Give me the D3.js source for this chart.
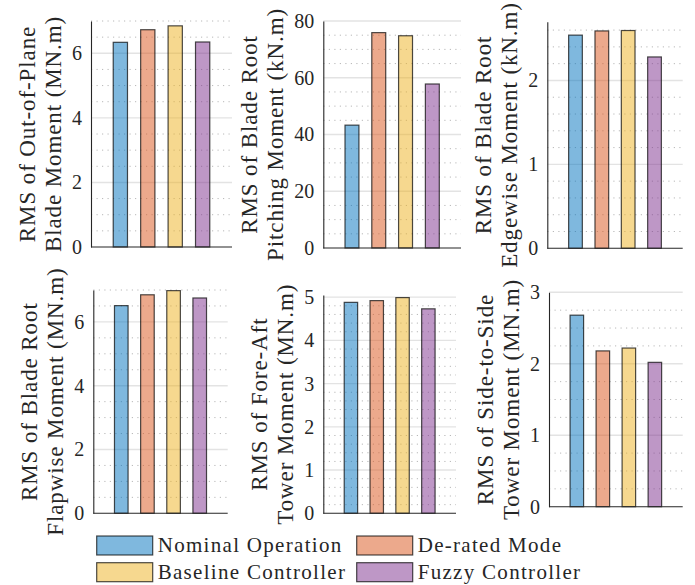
<!DOCTYPE html>
<html>
<head>
<meta charset="utf-8">
<script src="https://cdn.jsdelivr.net/npm/d3@7"></script>
<style>
  html, body { margin: 0; padding: 0; background: #fff; }
  svg { display: block; }
  text { font-family: "Liberation Serif", "Times New Roman", serif; fill: #262626; }
</style>
</head>
<body>
<svg id="chart" width="695" height="585"></svg>
<script>
// Controller strategies compared in every panel
const categories = ["Nominal Operation", "De-rated Mode", "Baseline Controller", "Fuzzy Controller"];

// RMS load values per strategy
const outOfPlaneBlade = [6.34, 6.73, 6.85, 6.35];     // MN.m
const bladeRootPitching = [43.3, 75.9, 74.8, 57.8];   // kN.m
const bladeRootEdgewise = [2.54, 2.59, 2.595, 2.28];  // kN.m
const bladeRootFlapwise = [6.51, 6.85, 6.98, 6.75];   // MN.m
const towerForeAft = [4.88, 4.92, 4.99, 4.73];        // MN.m
const towerSideToSide = [2.68, 2.18, 2.22, 2.02];     // MN.m

// Y tick labels per panel
const ticksOutOfPlane = [0, 2, 4, 6];
const ticksPitching = [0, 20, 40, 60, 80];
const ticksEdgewise = [0, 1, 2];
const ticksFlapwise = [0, 2, 4, 6];
const ticksForeAft = [0, 1, 2, 3, 4, 5];
const ticksSideToSide = [0, 1, 2, 3];

// Y axis titles (two lines each)
const labelsOutOfPlane = ["RMS of Out-of-Plane", "Blade Moment (MN.m)"];
const labelsPitching = ["RMS of Blade Root", "Pitching Moment (kN.m)"];
const labelsEdgewise = ["RMS of Blade Root", "Edgewise Moment (kN.m)"];
const labelsFlapwise = ["RMS of Blade Root", "Flapwise Moment (MN.m)"];
const labelsForeAft = ["RMS of Fore-Aft", "Tower Moment (MN.m)"];
const labelsSideToSide = ["RMS of Side-to-Side", "Tower Moment (MN.m)"];

// Face colours (semi-transparent MATLAB default palette)
const palette = ["#0072bd", "#d95319", "#edb120", "#7e2f8e"];

// Panel layout: plot box and axis limits
const panels = [
  { values: outOfPlaneBlade, ticks: ticksOutOfPlane, labels: labelsOutOfPlane, yMax: 7, minor: 0.5,
    box: { left: 91, right: 232, top: 21, bottom: 247 } },
  { values: bladeRootPitching, ticks: ticksPitching, labels: labelsPitching, yMax: 80, minor: 5,
    box: { left: 323.3, right: 461, top: 21, bottom: 248 } },
  { values: bladeRootEdgewise, ticks: ticksEdgewise, labels: labelsEdgewise, yMax: 2.7, minor: 0.2,
    box: { left: 547.3, right: 682.7, top: 21.7, bottom: 248.3 } },
  { values: bladeRootFlapwise, ticks: ticksFlapwise, labels: labelsFlapwise, yMax: 7, minor: 0.5,
    box: { left: 93.3, right: 227.7, top: 290, bottom: 513.3 } },
  { values: towerForeAft, ticks: ticksForeAft, labels: labelsForeAft, yMax: 5.05, minor: 0.2,
    box: { left: 323.3, right: 456, top: 295, bottom: 513.3 } },
  { values: towerSideToSide, ticks: ticksSideToSide, labels: labelsSideToSide, yMax: 3, minor: 0.25,
    box: { left: 549, right: 682.7, top: 292.3, bottom: 506.7 } }
];

const svg = d3.select("#chart");
const barWidth = 0.52;          // in category units
const xPositions = [1, 2, 3, 4];

panels.forEach(p => {
  const b = p.box;
  const g = svg.append("g");

  const x = d3.scaleLinear().domain([-0.07, 5.07]).range([b.left, b.right]);
  const y = d3.scaleLinear().domain([0, p.yMax]).range([b.bottom, b.top]);

  // Minor dotted grid
  const minorVals = d3.range(0, p.yMax + 1e-9, p.minor)
    .filter(v => !p.ticks.some(t => Math.abs(t - v) < 1e-9));
  g.append("g").selectAll("line").data(minorVals).join("line")
    .attr("x1", b.left).attr("x2", b.right)
    .attr("y1", d => y(d)).attr("y2", d => y(d))
    .attr("stroke", "#b8b8b8").attr("stroke-width", 1)
    .attr("stroke-dasharray", "1.2,4.3");

  // Major solid grid
  g.append("g").selectAll("line").data(p.ticks.filter(t => t > 0)).join("line")
    .attr("x1", b.left).attr("x2", b.right)
    .attr("y1", d => y(d)).attr("y2", d => y(d))
    .attr("stroke", "#e3e3e3").attr("stroke-width", 1.4);

  // Bars
  g.append("g").selectAll("rect").data(p.values).join("rect")
    .attr("x", (d, i) => x(xPositions[i] - barWidth / 2))
    .attr("width", (d, i) => x(xPositions[i] + barWidth / 2) - x(xPositions[i] - barWidth / 2))
    .attr("y", d => y(d))
    .attr("height", d => y(0) - y(d))
    .attr("fill", (d, i) => palette[i]).attr("fill-opacity", 0.5)
    .attr("stroke", "#000").attr("stroke-opacity", 0.7).attr("stroke-width", 1.2);

  // Y axis with tick labels
  const yAxis = d3.axisLeft(y).tickValues(p.ticks).tickFormat(d3.format("d"))
    .tickSizeInner(0).tickSizeOuter(0).tickPadding(9);
  const ax = g.append("g").attr("transform", `translate(${b.left},0)`).call(yAxis);
  ax.select(".domain").attr("stroke", "#262626").attr("stroke-width", 1.1);
  ax.selectAll(".tick text").attr("font-size", 20)
    .style("font-family", '"Liberation Serif", serif').attr("fill", "#262626");

  // Bottom axis line
  g.append("line")
    .attr("x1", b.left).attr("x2", b.right)
    .attr("y1", b.bottom).attr("y2", b.bottom)
    .attr("stroke", "#262626").attr("stroke-width", 1.1);

  // Y axis title, two rotated lines placed left of the tick labels
  let minX = Infinity;
  ax.selectAll(".tick text").each(function () {
    const bb = this.getBBox();
    minX = Math.min(minX, b.left + bb.x);
  });
  const line2X = minX - 11;
  const line1X = line2X - 26.5;
  const cy = (b.top + b.bottom) / 2;
  [line1X, line2X].forEach((lx, i) => {
    g.append("text")
      .attr("transform", `translate(${lx},${cy}) rotate(-90)`)
      .attr("text-anchor", "middle")
      .attr("font-size", 23)
      .style("letter-spacing", "0.9px")
      .text(p.labels[i]);
  });
});

// Legend, two columns
const legend = svg.append("g");
const legendCols = [96.7, 356.7];
const legendRows = [536, 562.7];
categories.forEach((name, i) => {
  const lx = legendCols[i % 2];
  const ly = legendRows[Math.floor(i / 2)];
  legend.append("rect")
    .attr("x", lx).attr("y", ly).attr("width", 56).attr("height", 19)
    .attr("fill", palette[i]).attr("fill-opacity", 0.5)
    .attr("stroke", "#000").attr("stroke-opacity", 0.7).attr("stroke-width", 1.2);
  legend.append("text")
    .attr("x", lx + 61).attr("y", ly + 16)
    .attr("font-size", 21)
    .style("letter-spacing", "1.3px")
    .text(name);
});
</script>
</body>
</html>
